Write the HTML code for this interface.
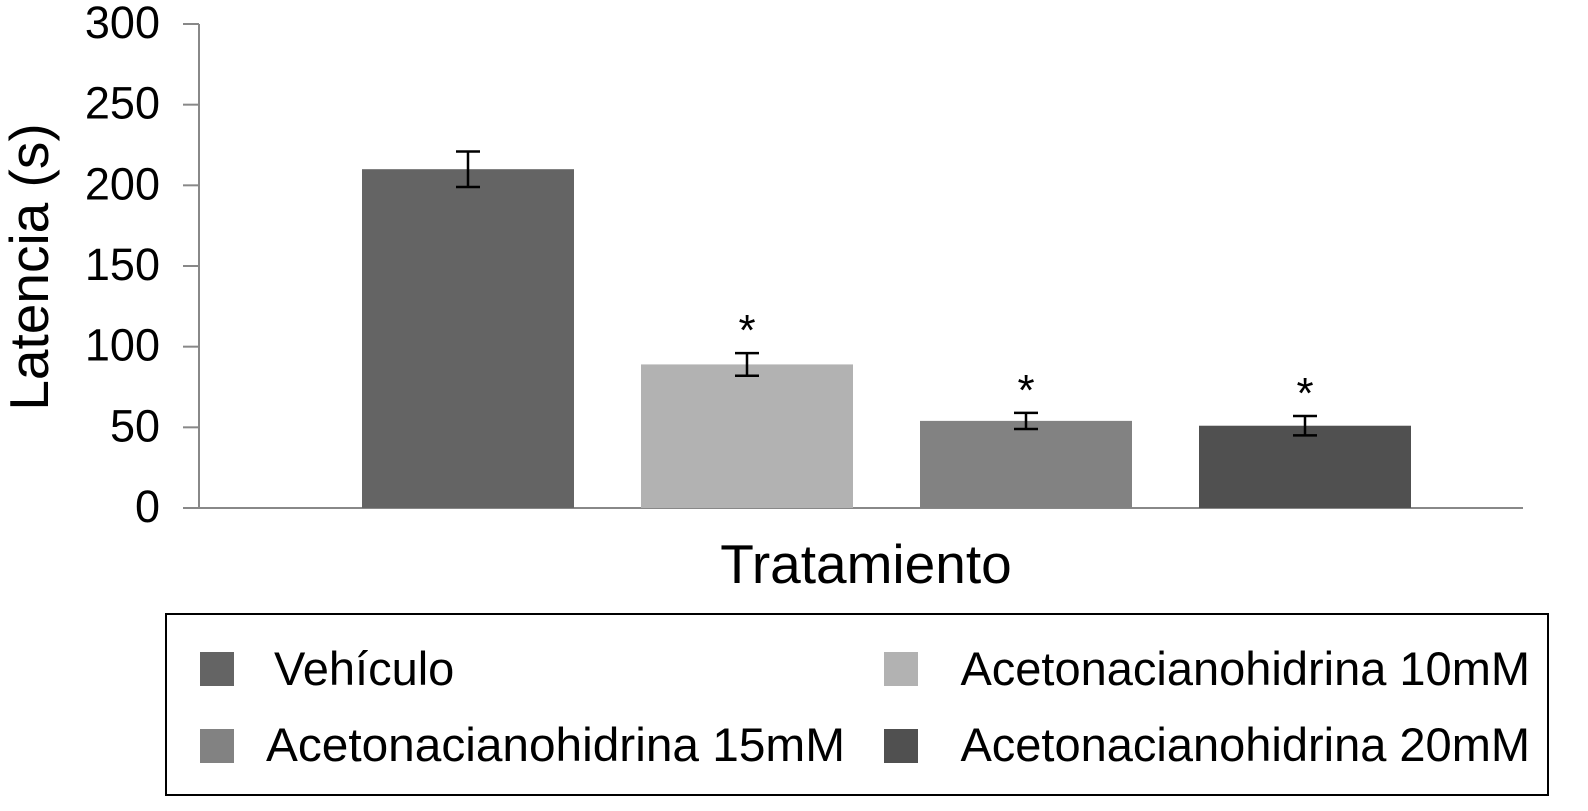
<!DOCTYPE html>
<html><head><meta charset="utf-8"><style>
body{margin:0;background:#fff;}
svg text{font-family:"Liberation Sans",Arial,sans-serif;fill:#000;}
</style></head><body>
<svg id="chart" width="1588" height="806" viewBox="0 0 1588 806">
<g id="axes"></g><g id="bars"></g>
<text transform="translate(48,267) rotate(-90)" text-anchor="middle" font-size="55">Latencia (s)</text>
<text x="866" y="583" text-anchor="middle" font-size="55">Tratamiento</text>
<rect x="166" y="614" width="1382" height="181" fill="none" stroke="#000" stroke-width="2"/>
<g><rect x="200" y="652" width="34" height="34" fill="#646464"/><text x="274" y="685" font-size="47">Vehículo</text></g>
<g><rect x="884" y="652" width="34" height="34" fill="#b2b2b2"/><text x="1530" y="685" font-size="47" text-anchor="end">Acetonacianohidrina 10mM</text></g>
<g><rect x="200" y="729" width="34" height="34" fill="#828282"/><text x="266" y="761" font-size="47" textLength="579" lengthAdjust="spacingAndGlyphs">Acetonacianohidrina 15mM</text></g>
<g><rect x="884" y="729" width="34" height="34" fill="#505050"/><text x="1530" y="761" font-size="47" text-anchor="end">Acetonacianohidrina 20mM</text></g>
</svg>
<script>
const categories=["Vehículo","Acetonacianohidrina 10mM","Acetonacianohidrina 15mM","Acetonacianohidrina 20mM"];
const values=[210,89,54,51];
const errors=[11,7,5,6];
const significant=[false,true,true,true];
const yTicks=[0,50,100,150,200,250,300];
const colors=["#646464","#b2b2b2","#828282","#505050"];
const NS="http://www.w3.org/2000/svg";
const y0=508,y1=24,yMax=300;
const y=v=>y0-(v/yMax)*(y0-y1);
const x=i=>468+i*279;
const bw=212;
function mk(t,a,p){const e=document.createElementNS(NS,t);for(const k in a)e.setAttribute(k,a[k]);p.appendChild(e);return e;}
const ax=document.getElementById('axes');
const yl=mk('line',{x1:199,y1:y(yMax),x2:199,y2:y0,stroke:'#888','stroke-width':2},ax);


const xl=mk('line',{x1:183,y1:y0,x2:1523,y2:y0,stroke:'#888','stroke-width':2},ax);


yTicks.forEach(t=>{
 const l=mk('line',{x1:183,x2:199,y1:y(t),y2:y(t),stroke:'#888','stroke-width':2},ax);
 
 
 const tx=mk('text',{x:160,y:y(t)+14,'text-anchor':'end','font-size':45},ax);
 tx.textContent=t;
 
 
});
const bg=document.getElementById('bars');
values.forEach((v,i)=>{
 const r=mk('rect',{x:x(i)-bw/2,y:y(v),width:bw,height:y0-y(v),fill:colors[i]},bg);
 
 
 const hi=y(v+errors[i]),lo=y(v-errors[i]);
 const g=mk('g',{stroke:'#000','stroke-width':2.5},bg);
 
 
 mk('line',{x1:x(i),x2:x(i),y1:hi,y2:lo},g);
 mk('line',{x1:x(i)-12,x2:x(i)+12,y1:hi,y2:hi},g);
 mk('line',{x1:x(i)-12,x2:x(i)+12,y1:lo,y2:lo},g);
 if(significant[i]){
  const s=mk('text',{x:x(i),y:hi-8,'text-anchor':'middle','font-size':44,'font-family':'Liberation Serif'},bg);
  s.textContent='*';
  
  
 }
});
</script>
</body></html>
